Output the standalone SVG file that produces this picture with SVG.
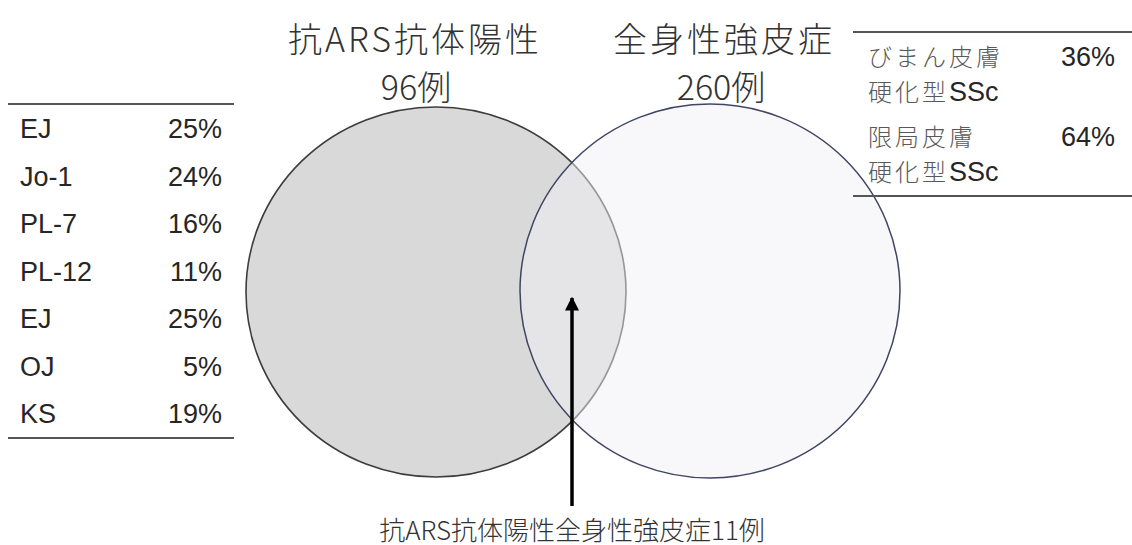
<svg xmlns="http://www.w3.org/2000/svg" width="1132" height="545" viewBox="0 0 1132 545">
<defs>
<style>
.tx{font-family:"Liberation Sans",Arial,sans-serif;font-size:27px;fill:#262626}
.jp{font-family:"Noto Sans CJK JP","Noto Sans CJK SC",sans-serif;fill:#333;font-weight:300}
.ttl{font-size:34px;letter-spacing:3px}
.num{font-size:34px}
.jl{font-family:"Noto Sans CJK JP","Noto Sans CJK SC",sans-serif;font-size:24px;letter-spacing:3px;fill:#595959;font-weight:300}
.ss{font-family:"Liberation Sans",Arial,sans-serif;font-size:27px;letter-spacing:0;fill:#262626}
.rule{stroke:#555;stroke-width:2}
</style>
<marker id="ah" viewBox="0 0 10 10" refX="9" refY="5" markerWidth="4" markerHeight="4" orient="auto" markerUnits="strokeWidth">
<path d="M0,0 L10,5 L0,10 z" fill="#000"/>
</marker>
</defs>
<rect width="1132" height="545" fill="#fff"/>

<g id="set-ars">
<ellipse cx="436" cy="292" rx="190" ry="185" fill="#d9d9d9" stroke="#3c3c3c" stroke-width="1.6"/>
<text class="jp ttl" x="415" y="52" text-anchor="middle">抗ARS抗体陽性</text>
<text class="jp num" x="416" y="100" text-anchor="middle">96例</text>
</g>

<g id="set-ssc">
<ellipse cx="710" cy="291" rx="190" ry="187" fill="#f2f2f5" fill-opacity="0.5" stroke="#3f4563" stroke-width="1.5"/>
<text class="jp ttl" x="724" y="52" text-anchor="middle">全身性強皮症</text>
<text class="jp num" x="721" y="100" text-anchor="middle">260例</text>
</g>

<g id="table-ars">
<line class="rule" x1="8" y1="104" x2="234" y2="104"/>
<line class="rule" x1="8" y1="438" x2="234" y2="438"/>
<text class="tx" x="20" y="138">EJ</text><text class="tx" x="222" y="138" text-anchor="end">25%</text>
<text class="tx" x="20" y="185.5">Jo-1</text><text class="tx" x="222" y="185.5" text-anchor="end">24%</text>
<text class="tx" x="20" y="233">PL-7</text><text class="tx" x="222" y="233" text-anchor="end">16%</text>
<text class="tx" x="20" y="280.5">PL-12</text><text class="tx" x="222" y="280.5" text-anchor="end">11%</text>
<text class="tx" x="20" y="328">EJ</text><text class="tx" x="222" y="328" text-anchor="end">25%</text>
<text class="tx" x="20" y="375.5">OJ</text><text class="tx" x="222" y="375.5" text-anchor="end">5%</text>
<text class="tx" x="20" y="423">KS</text><text class="tx" x="222" y="423" text-anchor="end">19%</text>
</g>

<g id="table-ssc">
<line class="rule" x1="853" y1="32" x2="1132" y2="32"/>
<line class="rule" x1="853" y1="196" x2="1132" y2="196"/>
<text class="jl" x="868" y="66">びまん皮膚</text>
<text class="tx" x="1115" y="66" text-anchor="end">36%</text>
<text class="jl" x="868" y="101">硬化型<tspan class="ss">SSc</tspan></text>
<text class="jl" x="868" y="146">限局皮膚</text>
<text class="tx" x="1115" y="146" text-anchor="end">64%</text>
<text class="jl" x="868" y="181">硬化型<tspan class="ss">SSc</tspan></text>
</g>

<g id="connectors">
<line x1="572" y1="506" x2="572" y2="298" stroke="#000" stroke-width="3.5" marker-end="url(#ah)"/>
</g>

<g id="label-overlap">
<text class="jp" x="572" y="540" font-size="26" text-anchor="middle">抗ARS抗体陽性全身性強皮症11例</text>
</g>
</svg>
